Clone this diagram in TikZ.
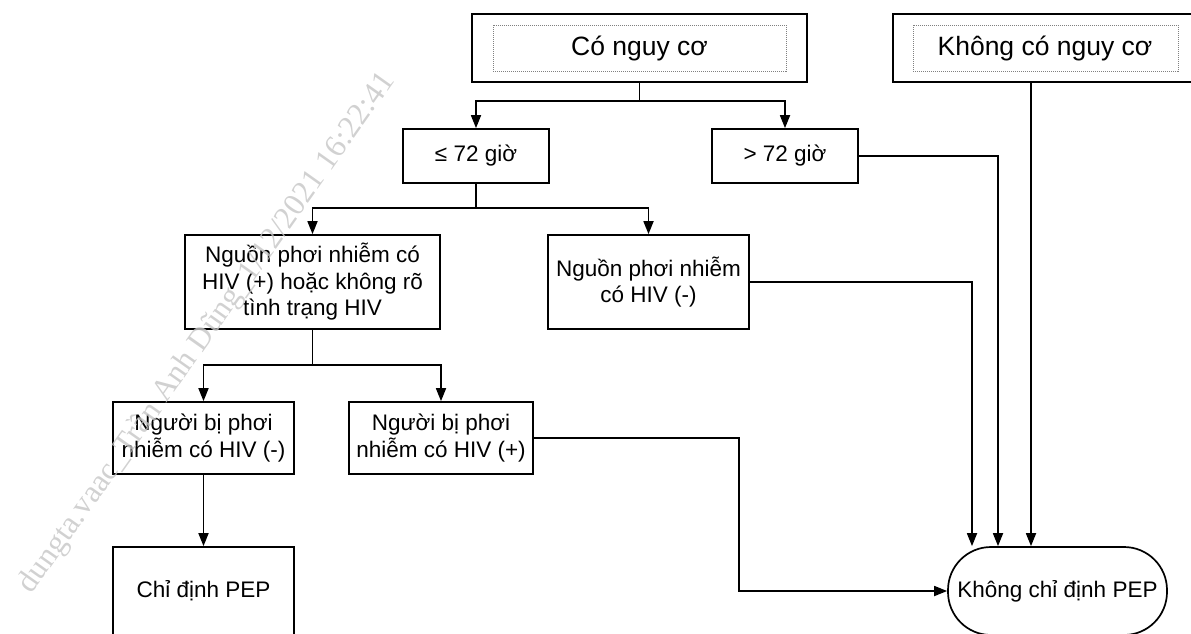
\documentclass[tikz,border=0pt]{standalone}
\usepackage{fontspec}
\setmainfont{Liberation Sans}
\newfontfamily\wmfont{Liberation Serif}
\usetikzlibrary{arrows.meta}
\begin{document}
\begin{tikzpicture}[x=1pt,y=-1pt,
  box/.style={draw, line width=1.7pt, align=center, inner sep=0pt, font=\fontsize{22.5}{26.5}\selectfont},
  bigbox/.style={box, font=\fontsize{26.5}{30}\selectfont},
  arr/.style={line width=1.7pt, -{Triangle[length=13pt,width=10pt]}},
  ln/.style={line width=1.7pt},
  dotbox/.style={draw=gray, line width=0.8pt, dash pattern=on 1pt off 1pt, inner sep=0pt},
  wm/.style={font=\wmfont\fontsize{31.5}{31.5}\selectfont, text=gray!45, text opacity=0.8}]
\useasboundingbox (0,0) rectangle (1191,633);

% top boxes
\node[bigbox, minimum width=335pt, minimum height=68pt] (cnc) at (639.5,48) {Có nguy cơ};
\node[dotbox, minimum width=293pt, minimum height=46pt] (cnci) at (639.5,48) {};
\node[bigbox, minimum width=304pt, minimum height=68pt] (kcnc) at (1045,48) {Không có nguy cơ};
\node[dotbox, minimum width=265pt, minimum height=46pt] (kcnci) at (1045.5,48) {};

% second level
\node[box, minimum width=146pt, minimum height=54pt] (le) at (476,156) {≤ 72 giờ};
\node[box, minimum width=146pt, minimum height=54pt] (gt) at (785,156) {> 72 giờ};

% third level
\node[box, minimum width=255pt, minimum height=94pt] (np) at (312.5,282) {Nguồn phơi nhiễm có\\HIV (+) hoặc không rõ\\tình trạng HIV};
\node[box, minimum width=201pt, minimum height=94pt] (nm) at (648.5,282) {Nguồn phơi nhiễm\\có HIV (-)};

% fourth level
\node[box, minimum width=181pt, minimum height=72pt] (pm) at (203.5,438) {Người bị phơi\\nhiễm có HIV (-)};
\node[box, minimum width=184pt, minimum height=72pt] (pp) at (441,438) {Người bị phơi\\nhiễm có HIV (+)};

% outcomes
\node[box, minimum width=181pt, minimum height=88pt] (chi) at (203.5,591) {Chỉ định PEP};
\node[box, rounded corners=43pt, minimum width=219pt, minimum height=88pt] (st) at (1057.5,591) {Không chỉ định PEP};

% connectors
\coordinate (j1) at (639.5,101);
\draw[ln] (cnc.south) -- (j1);
\draw[arr] (j1) -| (le.north);
\draw[arr] (j1) -| (gt.north);

\coordinate (j2) at (476,208);
\draw[ln] (le.south) -- (j2);
\draw[arr] (j2) -| (np.north);
\draw[arr] (j2) -| (nm.north);

\coordinate (j3) at (312.5,365);
\draw[ln] (np.south) -- (j3);
\draw[arr] (j3) -| (pm.north);
\draw[arr] (j3) -| (pp.north);

\draw[arr] (pm.south) -- (chi.north);

\coordinate (r1) at (998,156);
\draw[arr] (gt.east) -- (r1) -- (r1 |- st.north);
\coordinate (r2) at (972,282);
\draw[arr] (nm.east) -- (r2) -- (r2 |- st.north);
\coordinate (r3) at ([xshift=-14pt]kcnc.south);
\draw[arr] (r3) -- (r3 |- st.north);
\coordinate (r4) at (739,438);
\draw[arr] (pp.east) -- (r4) |- (st.west);

% watermark
\node[wm, rotate=54.7] (wmark) at (207,333) {dungta.vaac\_Trần Anh Dũng\_1/12/2021 16:22:41};
\end{tikzpicture}
\end{document}
